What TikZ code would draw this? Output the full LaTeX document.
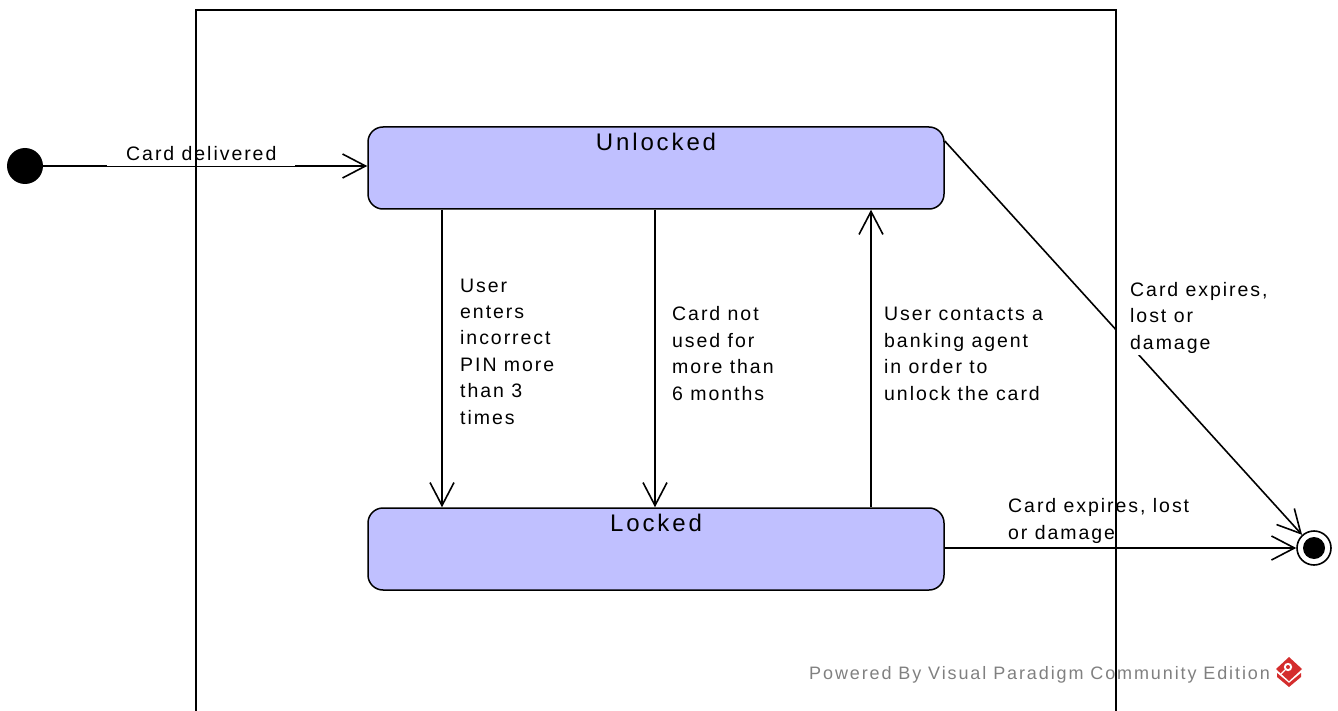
\documentclass[tikz,border=0pt]{standalone}
\usepackage{fontspec}
\setmainfont{Liberation Sans}
\newfontfamily\lblfont[LetterSpace=10]{Liberation Sans}
\newfontfamily\statefont[LetterSpace=12]{Liberation Sans}
\newfontfamily\markfont[LetterSpace=10.5]{Liberation Sans}
\usetikzlibrary{arrows.meta}
\definecolor{statefill}{RGB}{192,192,255}
\definecolor{markgrey}{RGB}{128,128,128}
\definecolor{logored}{RGB}{212,45,45}

\begin{document}
\begin{tikzpicture}[x=1pt,y=-1pt,
  state/.style={draw, line width=1.5pt, fill=statefill, rounded corners=15pt,
    minimum width=576pt, minimum height=82pt, inner sep=0pt},
  statename/.style={anchor=base, yshift=-24.5pt, inner sep=0pt,
    font=\statefont\fontsize{24}{28}\selectfont},
  trans/.style={line width=1.6pt,
    -{Straight Barb[length=23pt,width=24pt,line width=1.6pt]}},
  lbl/.style={font=\lblfont\fontsize{19.5}{26.4}\selectfont, align=left,
    inner sep=2pt, anchor=base west},
]
\useasboundingbox (0,0) rectangle (1338,711);

% states
\node[state, label={[statename]north:Unlocked}] (u) at (656,168) {};
\node[state, label={[statename]north:Locked}] (l) at (656,549) {};

% pseudo states
\node[circle, fill=black, minimum size=36pt, inner sep=0pt] (init) at (25,166) {};
\node[circle, draw, line width=1.6pt, fill=white, minimum size=34pt, inner sep=0pt] (fin) at (1314,548) {};
\node[circle, fill=black, minimum size=22pt, inner sep=0pt] (fincore) at (fin) {};

% guide coordinates for the vertical transitions
\coordinate (xa) at (442,0);
\coordinate (xb) at (655,0);
\coordinate (xc) at (871,0);

% transitions
\draw[trans] (init) -- (init -| u.west);
\draw[trans] (u.south -| xa) -- (l.north -| xa);
\draw[trans] (u.south -| xb) -- (l.north -| xb);
\draw[trans] (l.north -| xc) -- (u.south -| xc);
\draw[trans] ([yshift=27pt]u.east) -- (fin);
\draw[trans] (l.east |- fin) -- (fin);

% transition labels (multi-line labels are anchored at their last baseline)
\node[lbl, fill=white, inner xsep=19pt, inner ysep=5pt] (t0) at (107,161) {Card delivered};
\node[lbl] (t1) at (458,424) {User\\enters\\incorrect\\PIN more\\than 3\\times};
\node[lbl] (t2) at (670,400) {Card not\\used for\\more than\\6 months};
\node[lbl] (t3) at (882,400) {User contacts a\\banking agent\\in order to\\unlock the card};
\node[lbl, fill=white, inner xsep=13pt, inner ysep=1.5pt] (t4) at (1117,349) {Card expires,\\lost or\\damage};
\node[lbl] (t5) at (1006,539) {Card expires, lost\\or damage};

% watermark
\node[anchor=base west, inner sep=0pt, text=markgrey,
  font=\markfont\fontsize{18}{22}\selectfont] (wm) at (809,679)
  {Powered By Visual Paradigm Community Edition};
\fill[logored] (1277,673) -- (1289,683) -- (1301,673) -- (1301,677) -- (1289,687) -- (1277,677) -- cycle;
\fill[logored] (1289,657) -- (1302,669) -- (1289,681) -- (1276,669) -- cycle;
\fill[white] (1288,667) circle (4.2);
\fill[logored] (1288,667) circle (2);
\draw[white, line width=1.2pt] (1285,670) -- (1281,674);

% enclosing frame
\draw[line width=1.8pt] (196,715) -- (196,10) -- (1116,10) -- (1116,715);
\end{tikzpicture}
\end{document}
